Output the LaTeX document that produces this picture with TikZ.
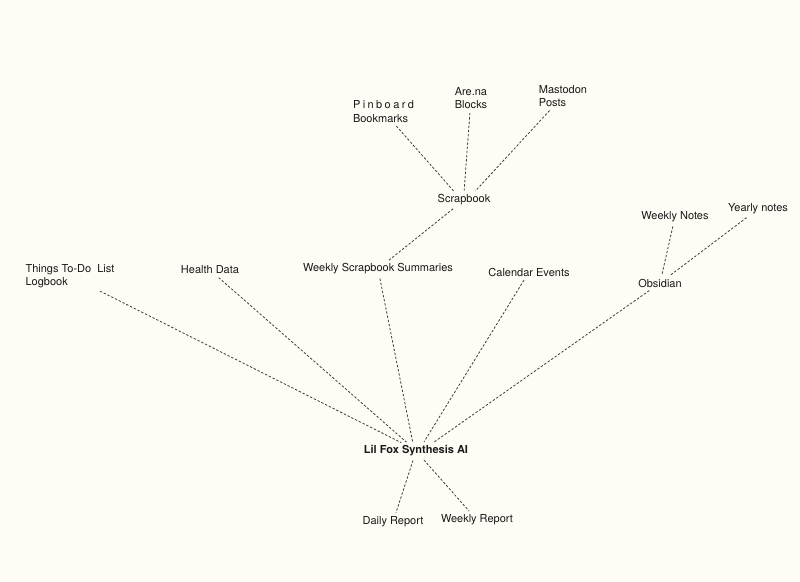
\documentclass[tikz,border=0pt]{standalone}
\usepackage{fontspec}
\setmainfont{TeX Gyre Heros}
\definecolor{paper}{RGB}{254,252,245}
\definecolor{ink}{RGB}{25,25,25}

\begin{document}
\begin{tikzpicture}[x=1pt,y=1pt,yscale=-1,xscale=1,
    lbl/.style={inner sep=2pt, yshift=-2pt, font=\fontsize{11}{13.5}\selectfont, text=ink, align=left},
    link/.style={draw=ink!85, line width=0.8pt, dash pattern=on 2.4pt off 1.8pt, shorten <=2pt, shorten >=2pt}]
    \fill[paper] (0,0) rectangle (800,581);
    \useasboundingbox (0,0) rectangle (800,581);

    % Text Node
    \node[lbl] (pinboard) at (383.5,109.5) {{\addfontfeature{LetterSpace=22}Pinboard}\\Bookmarks};
    \node[lbl] (arena) at (471,96) {Are.na\\Blocks};
    \node[lbl] (mastodon) at (563,94) {Mastodon\\Posts};
    \node[lbl] (scrap) at (464,198) {Scrapbook};
    \node[lbl] (wss) at (378,267) {Weekly Scrapbook Summaries};
    \node[lbl] (things) at (70,274) {Things To-Do\ \ List\\Logbook};
    \node[lbl] (health) at (210,268) {Health Data};
    \node[lbl] (calendar) at (529,270) {Calendar Events};
    \node[lbl] (obsidian) at (660,281) {Obsidian};
    \node[lbl] (weeklynotes) at (675,215) {Weekly Notes};
    \node[lbl] (yearly) at (758,207) {Yearly notes};
    \node[lbl, font=\fontsize{11}{13.5}\selectfont\bfseries] (ai) at (416,449) {Lil Fox Synthesis AI};
    \node[lbl] (daily) at (393,520) {Daily Report};
    \node[lbl] (weeklyreport) at (477,518) {Weekly Report};

    \draw[link] (pinboard) -- ([xshift=-9]scrap.north);
    \draw[link] (arena) -- (scrap.north);
    \draw[link] (mastodon) -- ([xshift=10]scrap.north);
    \draw[link] (scrap) -- (wss);
    \draw[link] (things) -- ([xshift=-13]ai.north);
    \draw[link] (health) -- ([xshift=-8]ai.north);
    \draw[link] (wss) -- ([xshift=-3]ai.north);
    \draw[link] (calendar) -- ([xshift=7]ai.north);
    \draw[link] (obsidian) -- ([xshift=16]ai.north);
    \draw[link] (weeklynotes) -- (obsidian);
    \draw[link] (yearly) -- (obsidian);
    \draw[link] (ai) -- (daily);
    \draw[link] (ai) -- (weeklyreport);
\end{tikzpicture}
\end{document}
